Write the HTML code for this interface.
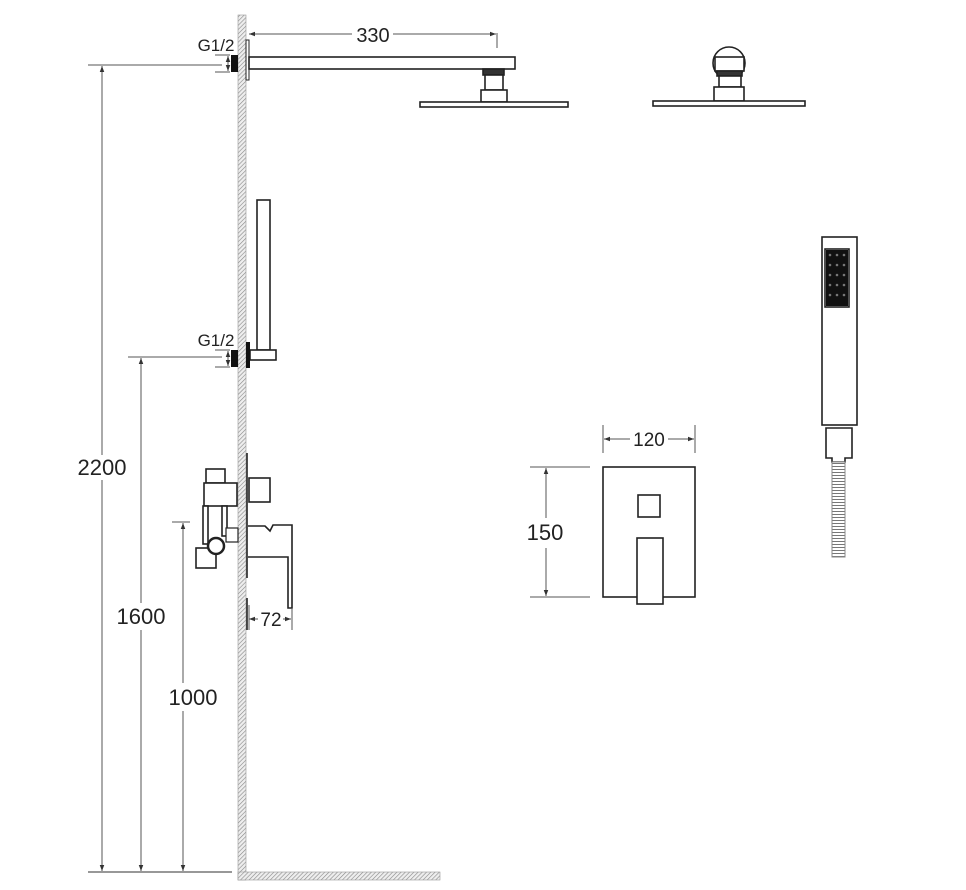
<!DOCTYPE html>
<html><head><meta charset="utf-8"><style>
html,body{margin:0;padding:0;background:#fff;}
svg{display:block;}
text{font-family:"Liberation Sans",sans-serif;fill:#222;}
</style></head><body>
<svg width="966" height="890" viewBox="0 0 966 890" xmlns="http://www.w3.org/2000/svg">
<defs>
<pattern id="h" width="3" height="3" patternUnits="userSpaceOnUse" patternTransform="rotate(45)">
<rect width="3" height="3" fill="#eee"/><line x1="0" y1="0" x2="0" y2="3" stroke="#888" stroke-width="1.2"/>
</pattern>
<pattern id="hose" width="4" height="3" patternUnits="userSpaceOnUse">
<rect width="4" height="3" fill="#fff"/><line x1="0" y1="1.5" x2="4" y2="1.5" stroke="#777" stroke-width="1"/>
</pattern>
<marker id="a" viewBox="0 0 8 8" refX="8" refY="4" markerWidth="6" markerHeight="6" orient="auto-start-reverse"><path d="M0,1 L8,4 L0,7z" fill="#333"/></marker>
</defs>
<rect x="238" y="15" width="8" height="865" fill="url(#h)" stroke="#999" stroke-width="0.6"/>
<rect x="238" y="872" width="202" height="8" fill="url(#h)" stroke="#999" stroke-width="0.6"/>
<line x1="88" y1="872" x2="232" y2="872" stroke="#777" stroke-width="1.5"/>

<g fill="none" stroke="#222" stroke-width="1.6">
<rect x="246" y="40" width="3" height="40" fill="#fff" stroke-width="1"/>
<rect x="249" y="57" width="266" height="12" fill="#fff"/>
<rect x="483" y="69" width="21" height="6" fill="#333"/>
<rect x="485" y="75" width="18" height="15" fill="#fff"/>
<rect x="481" y="90" width="26" height="12" fill="#fff"/>
<rect x="420" y="102" width="148" height="5" fill="#fff"/>
<circle cx="729" cy="63" r="16" fill="#fff"/>
<rect x="715" y="57" width="29" height="14" fill="#fff"/>
<rect x="717" y="71" width="25" height="5" fill="#333"/>
<rect x="719" y="76" width="22" height="11" fill="#fff"/>
<rect x="714" y="87" width="30" height="14" fill="#fff"/>
<rect x="653" y="101" width="152" height="5" fill="#fff"/>
<rect x="257" y="200" width="13" height="150" fill="#fff"/>
<rect x="250" y="350" width="26" height="10" fill="#fff"/>
<line x1="247" y1="453" x2="247" y2="578"/>
<line x1="247" y1="598" x2="247" y2="630"/>
<rect x="206" y="469" width="19" height="14" fill="#fff"/>
<rect x="204" y="483" width="33" height="23" fill="#fff"/>
<rect x="203" y="506" width="5" height="38" fill="#fff"/>
<rect x="222" y="506" width="5" height="30" fill="#fff"/>
<rect x="226" y="528" width="12" height="14" fill="#fff" stroke-width="1.2"/>
<rect x="196" y="548" width="20" height="20" fill="#fff"/>
<circle cx="216" cy="546" r="8" fill="#fff" stroke-width="2.5"/>
<rect x="249" y="478" width="21" height="24" fill="#fff"/>
<path d="M248,526 L265,526 L270,531 L273,525 L292,525 L292,608 L288,608 L288,557 L248,557" fill="#fff"/>
<rect x="603" y="467" width="92" height="130" fill="#fff"/>
<rect x="638" y="495" width="22" height="22" fill="#fff"/>
<rect x="637" y="538" width="26" height="66" fill="#fff"/>
<rect x="822" y="237" width="35" height="188" fill="#fff"/>
<rect x="825" y="249" width="24" height="58" fill="#fff"/>
<path d="M826,428 L852,428 L852,458 L845,458 L845,462 L832,462 L832,458 L826,458 Z" fill="#fff"/>
</g>
<rect x="826" y="250" width="22" height="56" fill="#111" />
<g fill="#777">
<circle cx="830" cy="255" r="1.3"/><circle cx="837" cy="255" r="1.3"/><circle cx="844" cy="255" r="1.3"/>
<circle cx="830" cy="265" r="1.3"/><circle cx="837" cy="265" r="1.3"/><circle cx="844" cy="265" r="1.3"/>
<circle cx="830" cy="275" r="1.3"/><circle cx="837" cy="275" r="1.3"/><circle cx="844" cy="275" r="1.3"/>
<circle cx="830" cy="285" r="1.3"/><circle cx="837" cy="285" r="1.3"/><circle cx="844" cy="285" r="1.3"/>
<circle cx="830" cy="295" r="1.3"/><circle cx="837" cy="295" r="1.3"/><circle cx="844" cy="295" r="1.3"/>
</g>
<rect x="832" y="462" width="13" height="95" fill="url(#hose)" stroke="#888" stroke-width="1"/>
<rect x="231" y="55" width="7" height="17" fill="#111"/>
<rect x="231" y="350" width="7" height="17" fill="#111"/>
<rect x="246" y="342" width="4" height="26" fill="#111"/>

<g stroke="#555" stroke-width="1" fill="none">
<line x1="88" y1="65" x2="222" y2="65"/>
<line x1="128" y1="357" x2="222" y2="357"/>
<line x1="172" y1="522" x2="190" y2="522"/>
<line x1="215" y1="55" x2="230" y2="55"/><line x1="215" y1="72" x2="230" y2="72"/>
<line x1="215" y1="350" x2="230" y2="350"/><line x1="215" y1="367" x2="230" y2="367"/>
<line x1="228" y1="56" x2="228" y2="71" marker-start="url(#a)" marker-end="url(#a)"/>
<line x1="228" y1="351" x2="228" y2="366" marker-start="url(#a)" marker-end="url(#a)"/>
<line x1="102" y1="66" x2="102" y2="455" marker-start="url(#a)"/>
<line x1="102" y1="480" x2="102" y2="871" marker-end="url(#a)"/>
<line x1="141" y1="358" x2="141" y2="603" marker-start="url(#a)"/>
<line x1="141" y1="630" x2="141" y2="871" marker-end="url(#a)"/>
<line x1="183" y1="523" x2="183" y2="683" marker-start="url(#a)"/>
<line x1="183" y1="711" x2="183" y2="871" marker-end="url(#a)"/>
<line x1="249" y1="34" x2="352" y2="34" marker-start="url(#a)"/>
<line x1="393" y1="34" x2="496" y2="34" marker-end="url(#a)"/>
<line x1="497" y1="33" x2="497" y2="48"/>
<line x1="249" y1="605" x2="249" y2="630"/><line x1="292" y1="608" x2="292" y2="630"/>
<line x1="249" y1="619" x2="258" y2="619" marker-start="url(#a)"/>
<line x1="283" y1="619" x2="291" y2="619" marker-end="url(#a)"/>
<line x1="603" y1="425" x2="603" y2="453"/><line x1="695" y1="425" x2="695" y2="453"/>
<line x1="604" y1="439" x2="630" y2="439" marker-start="url(#a)"/>
<line x1="668" y1="439" x2="694" y2="439" marker-end="url(#a)"/>
<line x1="530" y1="467" x2="590" y2="467"/><line x1="530" y1="597" x2="590" y2="597"/>
<line x1="546" y1="468" x2="546" y2="518" marker-start="url(#a)"/>
<line x1="546" y1="548" x2="546" y2="596" marker-end="url(#a)"/>
</g>
<text x="216" y="51" font-size="17" text-anchor="middle">G1/2</text>
<text x="216" y="346" font-size="17" text-anchor="middle">G1/2</text>
<text x="373" y="42" font-size="20" text-anchor="middle">330</text>
<text x="102" y="475" font-size="22" text-anchor="middle">2200</text>
<text x="141" y="624" font-size="22" text-anchor="middle">1600</text>
<text x="193" y="705" font-size="22" text-anchor="middle">1000</text>
<text x="271" y="626" font-size="19" text-anchor="middle">72</text>
<text x="649" y="446" font-size="19" text-anchor="middle">120</text>
<text x="545" y="540" font-size="22" text-anchor="middle">150</text>
</svg>
</body></html>
